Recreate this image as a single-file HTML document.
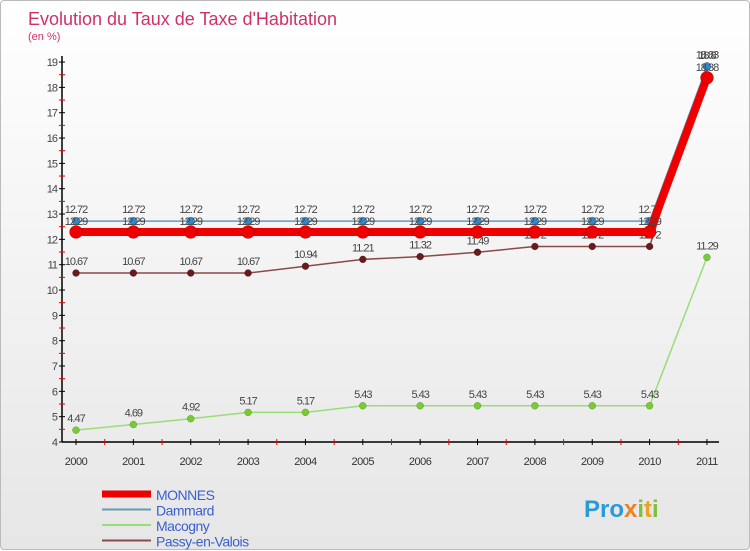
<!DOCTYPE html>
<html><head><meta charset="utf-8"><style>
body{margin:0;width:750px;height:550px;overflow:hidden;font-family:"Liberation Sans",sans-serif;}
#wrap{position:absolute;left:0;top:0;width:748px;height:548px;border:1px solid #bbb;border-radius:4px;background:linear-gradient(#ffffff,#e6e6e6);}
</style></head><body>
<div id="wrap">
<svg id="chart" width="750" height="550" style="position:absolute;left:0;top:0"></svg>
</div>
<script>
const years=["2000","2001","2002","2003","2004","2005","2006","2007","2008","2009","2010","2011"];
const monnes=[12.29,12.29,12.29,12.29,12.29,12.29,12.29,12.29,12.29,12.29,12.29,18.38];
const dammard=[12.72,12.72,12.72,12.72,12.72,12.72,12.72,12.72,12.72,12.72,12.72,18.83];
const macogny=[4.47,4.69,4.92,5.17,5.17,5.43,5.43,5.43,5.43,5.43,5.43,11.29];
const passy=[10.67,10.67,10.67,10.67,10.94,11.21,11.32,11.49,11.72,11.72,11.72,18.8];
const yTicks=[4,5,6,7,8,9,10,11,12,13,14,15,16,17,18,19];
const NS="http://www.w3.org/2000/svg";
const svg=document.getElementById('chart');
function X(i){return 75+i*57.36;}
function Y(v){return 441-(v-4)*25.33;}
function el(t,a,p){const e=document.createElementNS(NS,t);for(const k in a)e.setAttribute(k,a[k]);(p||svg).appendChild(e);return e;}
function txt(x,y,s,a,p){const e=el('text',Object.assign({x:x,y:y},a),p);e.textContent=s;return e;}
let t=txt(27,24,"Evolution du Taux de Taxe d'Habitation",{'font-size':18,fill:'#d0306a'});

t=txt(27,39,"(en %)",{'font-size':11,fill:'#d0306a'});

let a=el('line',{x1:61,y1:55,x2:61,y2:441,stroke:'#000','stroke-width':1.5});

a=el('line',{x1:61,y1:441,x2:718,y2:441,stroke:'#000','stroke-width':1.5});

yTicks.forEach((v,i)=>{
 el('line',{x1:58,y1:Y(v),x2:64,y2:Y(v),stroke:'#000'});
 if(i<yTicks.length-1) el('line',{x1:58,y1:Y(v+0.5),x2:64,y2:Y(v+0.5),stroke:'#e00'});
 const l=txt(56,Y(v)+4,String(v),{'font-size':11,fill:'#444','text-anchor':'end','letter-spacing':'-1'});
 
});
years.forEach((y,i)=>{
 el('line',{x1:X(i),y1:438,x2:X(i),y2:444,stroke:'#000'});
 if(i<years.length-1) el('line',{x1:X(i)+28.7,y1:438,x2:X(i)+28.7,y2:444,stroke:'#e00'});
 const l=txt(X(i),464,y,{'font-size':11,fill:'#333','text-anchor':'middle','letter-spacing':'-0.5'});
 
});
function series(data,name,color,w,r,dot,labelDy){
 const g=el('g',{});
 
 el('polyline',{points:data.map((v,i)=>X(i)+','+Y(v)).join(' '),fill:'none',stroke:color,'stroke-width':w},g);
 data.forEach((v,i)=>{
  const c=el('circle',{cx:X(i),cy:Y(v),r:r,fill:dot,stroke:'rgba(0,0,0,0.3)','stroke-width':0.5},g);
  
  const l=txt(X(i),Y(v)+labelDy,String(v),{'font-size':11,fill:'#444','text-anchor':'middle','letter-spacing':'-1'},g);
  
 });
}
series(macogny,'macogny','#99dd77',1.5,3.5,'#77cc33',-8);
series(passy,'passy-en-valois','#8a4a4a',1.5,3.5,'#6a1a1a',-8);
series(dammard,'dammard','#6699bb',1.5,4,'#3388cc',-8);
series(monnes,'monnes','#ee0000',8,6.5,'#ee0000',-7);
const leg=[['MONNES','#ee0000',7],['Dammard','#6699bb',2],['Macogny','#99dd77',2],['Passy-en-Valois','#8a4a4a',2]];
leg.forEach((d,i)=>{
 const y=493+i*15.5;
 const g=el('g',{});
 
 
 el('line',{x1:101,y1:y,x2:150,y2:y,stroke:d[1],'stroke-width':d[2]},g);
 txt(155,y+6,d[0],{'font-size':14,fill:'#3a5fd0','letter-spacing':'-0.5'},g);
});
const logo=el('text',{x:583,y:516,'font-size':24,'font-weight':'bold'});


const ts=['Pro','x','i','t','i'],cs=['#2a9ad8','#f08020','#80c040','#f0a020','#80c040'];
ts.forEach((c,i)=>{const s=el('tspan',{fill:cs[i]},logo);s.textContent=c;});
</script>
</body></html>
